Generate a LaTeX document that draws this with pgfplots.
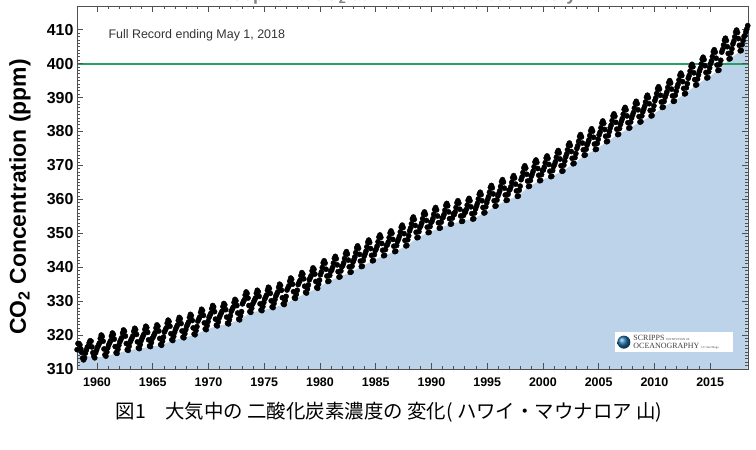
\documentclass[border=0pt]{standalone}
\usepackage{pgfplots}
\pgfplotsset{compat=1.18}
\usepackage{pgfplotstable}
\usepackage{fontspec}
\setmainfont{Liberation Sans}
\newfontfamily\serif{Liberation Serif}
\newfontfamily\cjk{Noto Sans CJK JP}

\definecolor{areablue}{HTML}{BCD3EA}
\definecolor{refgreen}{RGB}{40,160,100}
\definecolor{axisgray}{HTML}{505050}
\definecolor{logoblue}{HTML}{1F6FA8}

% monthly CO2 (ppm), one row per year; fx/fy = lower edge of the shaded area
\pgfplotstableread{
yr   m1    m2    m3    m4    m5    m6    m7    m8    m9    m10   m11   m12   fx      fy
1958 nan   nan   315.7 317.5 317.5 317.1 315.9 314.9 313.2 312.7 313.3 314.7 1958.20 314.6
1959 315.6 316.4 316.7 317.7 318.3 318.2 316.5 314.8 313.8 313.3 314.8 315.6 1959.79 313.3
1960 316.4 317.0 317.6 319.0 320.0 319.6 318.2 315.9 314.2 313.8 315.0 316.2 1960.79 313.8
1961 317.1 317.7 318.3 319.7 320.6 320.2 318.8 316.6 314.8 314.6 315.8 317.0 1961.79 314.6
1962 318.0 318.6 319.2 320.6 321.5 321.1 319.7 317.5 315.7 315.5 316.7 317.9 1962.79 315.5
1963 318.5 319.1 319.7 321.1 322.0 321.6 320.2 318.0 316.2 316.0 317.2 318.4 1963.79 316.0
1964 319.1 319.7 320.3 321.7 322.6 322.2 320.8 318.6 316.8 316.6 317.8 319.0 1964.79 316.6
1965 319.5 320.1 320.7 322.1 323.0 322.6 321.2 319.0 317.2 317.0 318.2 319.4 1965.79 317.0
1966 320.9 321.5 322.1 323.5 324.4 324.0 322.6 320.4 318.6 318.4 319.6 320.8 1966.79 318.4
1967 321.7 322.3 322.9 324.3 325.2 324.8 323.4 321.2 319.4 319.2 320.4 321.6 1967.79 319.2
1968 322.6 323.2 323.8 325.2 326.1 325.7 324.3 322.1 320.3 320.1 321.3 322.5 1968.79 320.1
1969 324.1 324.7 325.3 326.7 327.6 327.2 325.8 323.6 321.8 321.6 322.8 324.0 1969.79 321.6
1970 325.2 325.8 326.4 327.8 328.7 328.3 326.9 324.7 322.9 322.7 323.9 325.1 1970.79 322.7
1971 325.8 326.4 327.0 328.4 329.3 328.9 327.5 325.3 323.5 323.3 324.5 325.7 1971.79 323.3
1972 327.0 327.6 328.2 329.6 330.5 330.1 328.7 326.5 324.7 324.5 325.7 326.9 1972.79 324.5
1973 329.2 329.8 330.4 331.8 332.7 332.3 330.9 328.7 326.9 326.7 327.9 329.1 1973.79 326.7
1974 329.7 330.3 330.9 332.3 333.2 332.8 331.4 329.2 327.4 327.2 328.4 329.6 1974.79 327.2
1975 330.6 331.2 331.8 333.2 334.1 333.7 332.3 330.1 328.3 328.1 329.3 330.5 1975.79 328.1
1976 331.5 332.1 332.7 334.1 335.0 334.6 333.2 331.0 329.2 329.0 330.2 331.4 1976.79 329.0
1977 333.3 333.9 334.5 335.9 336.8 336.4 335.0 332.8 331.0 330.8 332.0 333.2 1977.79 330.8
1978 334.9 335.5 336.1 337.5 338.4 338.0 336.6 334.4 332.6 332.4 333.6 334.8 1978.79 332.4
1979 336.3 336.9 337.5 338.9 339.8 339.4 338.0 335.8 334.0 333.8 335.0 336.2 1979.79 333.8
1980 337.8 338.6 339.9 341.3 341.9 341.2 339.4 337.4 335.8 335.9 337.6 338.8 1980.79 335.9
1981 339.1 339.9 341.2 342.6 343.2 342.5 340.7 338.7 337.1 337.2 338.9 340.1 1981.79 337.2
1982 340.5 341.3 342.6 344.0 344.6 343.9 342.1 340.1 338.5 338.6 340.3 341.5 1982.79 338.6
1983 342.2 343.0 344.3 345.7 346.3 345.6 343.8 341.8 340.2 340.3 342.0 343.2 1983.79 340.3
1984 343.9 344.7 346.0 347.4 348.0 347.3 345.5 343.5 341.9 342.0 343.7 344.9 1984.79 342.0
1985 345.4 346.2 347.5 348.9 349.5 348.8 347.0 345.0 343.4 343.5 345.2 346.4 1985.79 343.5
1986 346.6 347.4 348.7 350.1 350.7 350.0 348.2 346.2 344.6 344.7 346.4 347.6 1986.79 344.7
1987 348.3 349.1 350.4 351.8 352.4 351.7 349.9 347.9 346.3 346.4 348.1 349.3 1987.79 346.4
1988 350.7 351.5 352.8 354.2 354.8 354.1 352.3 350.3 348.7 348.8 350.5 351.7 1988.79 348.8
1989 352.2 353.0 354.3 355.7 356.3 355.6 353.8 351.8 350.2 350.3 352.0 353.2 1989.79 350.3
1990 353.5 354.3 355.6 357.0 357.6 356.9 355.1 353.1 351.5 351.6 353.3 354.5 1990.79 351.6
1991 354.7 355.5 356.8 358.2 358.8 358.1 356.3 354.3 352.7 352.8 354.5 355.7 1991.79 352.8
1992 355.5 356.3 357.6 359.0 359.6 358.9 357.1 355.1 353.5 353.6 355.3 356.5 1992.79 353.6
1993 356.2 357.0 358.3 359.7 360.3 359.6 357.8 355.8 354.2 354.3 356.0 357.2 1993.79 354.3
1994 358.0 358.8 360.1 361.5 362.1 361.4 359.6 357.6 356.0 356.1 357.8 359.0 1994.79 356.1
1995 360.0 360.8 362.1 363.5 364.1 363.4 361.6 359.6 358.0 358.1 359.8 361.0 1995.79 358.1
1996 361.7 362.5 363.8 365.2 365.8 365.1 363.3 361.3 359.7 359.8 361.5 362.7 1996.79 359.8
1997 362.9 363.7 365.0 366.4 367.0 366.3 364.5 362.5 360.9 361.0 362.7 363.9 1997.79 361.0
1998 365.8 366.6 367.9 369.3 369.9 369.2 367.4 365.4 363.8 363.9 365.6 366.8 1998.79 363.9
1999 367.5 368.3 369.6 371.0 371.6 370.9 369.1 367.1 365.5 365.6 367.3 368.5 1999.79 365.6
2000 368.7 369.5 370.8 372.2 372.8 372.1 370.3 368.3 366.7 366.8 368.5 369.7 2000.79 366.8
2001 370.3 371.1 372.4 373.8 374.4 373.7 371.9 369.9 368.3 368.4 370.1 371.3 2001.79 368.4
2002 372.5 373.3 374.6 376.0 376.6 375.9 374.1 372.1 370.5 370.6 372.3 373.5 2002.79 370.6
2003 375.0 375.8 377.1 378.5 379.1 378.4 376.6 374.6 373.0 373.1 374.8 376.0 2003.79 373.1
2004 376.7 377.5 378.8 380.2 380.8 380.1 378.3 376.3 374.7 374.8 376.5 377.7 2004.79 374.8
2005 379.0 379.8 381.1 382.5 383.1 382.4 380.6 378.6 377.0 377.1 378.8 380.0 2005.79 377.1
2006 381.1 381.9 383.2 384.6 385.2 384.5 382.7 380.7 379.1 379.2 380.9 382.1 2006.79 379.2
2007 383.0 383.8 385.1 386.5 387.1 386.4 384.6 382.6 381.0 381.1 382.8 384.0 2007.79 381.1
2008 384.8 385.6 386.9 388.3 388.9 388.2 386.4 384.4 382.8 382.9 384.6 385.8 2008.79 382.9
2009 386.6 387.4 388.7 390.1 390.7 390.0 388.2 386.2 384.6 384.7 386.4 387.6 2009.79 384.7
2010 389.1 389.9 391.2 392.6 393.2 392.5 390.7 388.7 387.1 387.2 388.9 390.1 2010.79 387.2
2011 390.9 391.7 393.0 394.4 395.0 394.3 392.5 390.5 388.9 389.0 390.7 391.9 2011.79 389.0
2012 393.1 393.9 395.2 396.6 397.2 396.5 394.7 392.7 391.1 391.2 392.9 394.1 2012.79 391.2
2013 395.7 396.5 397.8 399.2 399.8 399.1 397.3 395.3 393.7 393.8 395.5 396.7 2013.79 393.8
2014 397.8 398.6 399.9 401.3 401.9 401.2 399.4 397.4 395.8 395.9 397.6 398.8 2014.79 395.9
2015 400.0 400.8 402.1 403.5 404.1 403.4 401.6 399.6 398.0 398.1 399.8 401.0 2015.79 398.1
2016 403.4 404.2 405.5 406.9 407.5 406.8 405.0 403.0 401.4 401.5 403.2 404.4 2016.79 401.5
2017 405.8 406.6 407.9 409.3 409.9 409.2 407.4 405.4 403.8 403.9 405.6 406.8 2017.79 403.9
2018 408.0 408.3 409.4 410.2 411.2 nan   nan   nan   nan   nan   nan   nan   2018.37 411.2
}\co

\begin{document}
\begin{tikzpicture}
\begin{axis}[
  at={(0,0)}, anchor=south west,
  scale only axis, width=671bp, height=363bp,
  xmin=1958.2, xmax=2018.4, ymin=310, ymax=417,
  xtick={1960,1965,...,2015}, minor x tick num=4,
  ytick={310,320,...,410}, minor y tick num=9,
  tick align=inside,
  major tick length=6bp, minor tick length=3bp,
  axis line style={axisgray, line width=0.9bp},
  every tick/.style={axisgray, line width=0.8bp},
  /pgf/number format/1000 sep={},
  /pgf/number format/assume math mode=true,
  xticklabel style={font=\bfseries\fontsize{12.5}{12.5}\selectfont, yshift=-5bp},
  yticklabel style={font=\bfseries\fontsize{16}{16}\selectfont},
  ylabel={CO\textsubscript{2} Concentration (ppm)},
  ylabel style={font=\bfseries\fontsize{23}{23}\selectfont,
    at={(axis description cs:-0.0849,0.474)}, anchor=center},
  axis on top,
]
\addplot[fill=areablue, draw=none] table[x=fx, y=fy] {\co} \closedcycle;
\addplot[draw=refgreen, line width=1.8bp, mark=none] coordinates {(1958.2,400) (2018.4,400)};
\pgfplotsinvokeforeach{1,...,12}{
  \addplot[only marks, mark=*, mark size=2.6bp, black]
    table[x expr=\thisrow{yr}+(#1-0.5)/12, y=m#1] {\co};
}

\node[anchor=west, font=\fontsize{12.5}{12.5}\selectfont, text=black!80]
  at (rel axis cs:0.0417,0.92) {Full Record ending May 1, 2018};

% Scripps badge
\fill[white] (rel axis cs:0.802,0.047) rectangle (rel axis cs:0.978,0.102);
\shade[ball color=logoblue] (rel axis cs:0.815,0.074) circle (6.5bp);
\node[anchor=west, inner sep=0, font=\serif\fontsize{8}{8}\selectfont, text=black!75]
  at (rel axis cs:0.829,0.085) {SCRIPPS {\fontsize{3}{3}\selectfont INSTITUTION OF}};
\node[anchor=west, inner sep=0, font=\serif\fontsize{8}{8}\selectfont, text=black!75]
  at (rel axis cs:0.829,0.062) {OCEANOGRAPHY {\fontsize{3}{3}\selectfont UC San Diego}};
\end{axis}

% title of the original figure, cut off by the top edge
\node[font=\bfseries\fontsize{18}{18}\selectfont, anchor=base east, text=black!50]
  at (503bp,368.5bp) {Atmospheric CO\textsubscript{2} at Mauna Loa Observatory};
\node[font=\cjk\fontsize{19.5}{19.5}\selectfont, anchor=center]
  at (312bp,-43bp) {図1　大気中の 二酸化炭素濃度の 変化( ハワイ・マウナロア 山)};

\pgfresetboundingbox
\path[use as bounding box] (-77bp,-81bp) rectangle (679bp,369bp);
\end{tikzpicture}
\end{document}
